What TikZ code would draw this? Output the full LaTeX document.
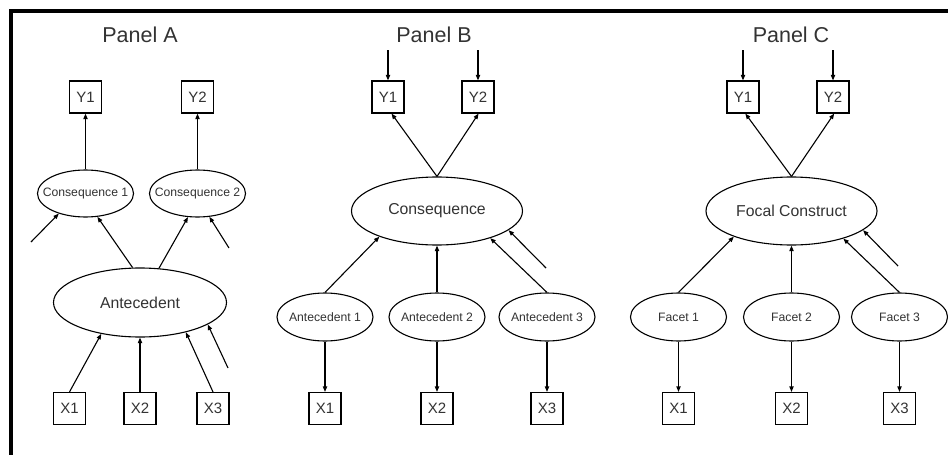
\documentclass[tikz,border=0pt]{standalone}
\usepackage{fontspec}
\setmainfont{Liberation Sans}
\usetikzlibrary{shapes.geometric,arrows.meta}
% label of zero width, so the ellipse keeps its given size
\newcommand{\lbl}[1]{\makebox[0pt]{#1}}
\tikzset{
  obsbox/.style={draw, rectangle, minimum width=32pt, minimum height=32pt,
    inner sep=0pt, font=\fontsize{15}{17}\selectfont},
  latbig/.style={draw, ellipse, minimum width=171pt, minimum height=68pt,
    inner sep=0pt, font=\fontsize{15.8}{18}\selectfont},
  latsmall/.style={draw, ellipse, minimum width=96pt, minimum height=47pt,
    inner sep=0pt, font=\fontsize{12.2}{14}\selectfont},
  paneltitle/.style={anchor=base, font=\fontsize{21.5}{24}\selectfont},
  link/.style={draw, -{Triangle[length=5.5pt,width=4.2pt]}},
}
\begin{document}
\begin{tikzpicture}[x=1pt, y=-1pt, line width=1.1pt,
  every node/.append style={text=black!80}]
\useasboundingbox (0,0) rectangle (948,455);
\fill[white] (0,0) rectangle (948,455);
% frame on top and left
\draw[line width=4pt] (11,455) -- (11,10.5) -- (948,10.5);

% ---------------- Panel A ----------------
\node[paneltitle] (tA) at (140,42.5) {Panel A};
\node[obsbox] (aY1) at (85.5,97) {Y1};
\node[obsbox] (aY2) at (197.5,97) {Y2};
\node[latsmall] (aC1) at (85.5,193.5) {\lbl{Consequence 1}};
\node[latsmall] (aC2) at (197.5,193.5) {\lbl{Consequence 2}};
\node[latbig, minimum width=173pt, minimum height=69pt] (aA) at (140,302.5) {\lbl{Antecedent}};
\node[obsbox] (aX1) at (69.5,408.5) {X1};
\node[obsbox] (aX2) at (140,408.5) {X2};
\node[obsbox] (aX3) at (213,408.5) {X3};
\coordinate (aE1) at (31,242);
\coordinate (aE2) at (229,248);
\coordinate (aE3) at (228,368);

\draw[link] (aC1.north) -- (aY1.south);
\draw[link] (aC2.north) -- (aY2.south);
\draw[link] (aA.102) -- (aC1.297);
\draw[link] (aA.61) -- (aC2.248);
\draw[link] (aE1) -- (aC1.217);
\draw[link] (aE2) -- (aC2.297);
\draw[link] (aX1.north) -- (aA.219);
\draw[link] (aX2.north) -- (aA.south);
\draw[link] (aX3.north) -- (aA.327);
\draw[link] (aE3) -- (aA.342);

% ---------------- Panel B ----------------
\node[paneltitle] (tB) at (434,42) {Panel B};
\node[obsbox] (bY1) at (388,97) {Y1};
\node[obsbox] (bY2) at (478,97) {Y2};
\node[latbig] (bC) at (437,211) {\lbl{Consequence}};
\node[latsmall, minimum height=48pt] (bA1) at (325,317) {\lbl{Antecedent 1}};
\node[latsmall, minimum height=48pt] (bA2) at (437,317) {\lbl{Antecedent 2}};
\node[latsmall, minimum height=48pt] (bA3) at (547,317) {\lbl{Antecedent 3}};
\node[obsbox] (bX1) at (325,408.5) {X1};
\node[obsbox] (bX2) at (437,408.5) {X2};
\node[obsbox] (bX3) at (547,408.5) {X3};
\coordinate (bE1) at (388,50);
\coordinate (bE2) at (478,50);
\coordinate (bE3) at (546,268);

\draw[link] (bE1) -- (bY1.north);
\draw[link] (bE2) -- (bY2.north);
\draw[link] (bC.north) -- (bY1.-78);
\draw[link] (bC.north) -- (bY2.-88);
\draw[link] (bA1.north) -- (bC.204);
\draw[link] (bA2.north) -- (bC.south);
\draw[link] (bA3.north) -- (bC.333);
\draw[link] (bE3) -- (bC.345);
\draw[link] (bA1.south) -- (bX1.north);
\draw[link] (bA2.south) -- (bX2.north);
\draw[link] (bA3.south) -- (bX3.north);

% ---------------- Panel C ----------------
\node[paneltitle] (tC) at (791,42) {Panel C};
\node[obsbox] (cY1) at (743,97) {Y1};
\node[obsbox] (cY2) at (833,97) {Y2};
\node[latbig] (cF) at (791.5,211) {\lbl{Focal Construct}};
\node[latsmall, minimum height=48pt] (cF1) at (678.5,317) {\lbl{Facet 1}};
\node[latsmall, minimum height=48pt] (cF2) at (791.5,317) {\lbl{Facet 2}};
\node[latsmall, minimum height=48pt] (cF3) at (899.5,317) {\lbl{Facet 3}};
\node[obsbox] (cX1) at (678.5,408.5) {X1};
\node[obsbox] (cX2) at (791.5,408.5) {X2};
\node[obsbox] (cX3) at (899.5,408.5) {X3};
\coordinate (cE1) at (743,50);
\coordinate (cE2) at (833,50);
\coordinate (cE3) at (898,266);

\draw[link] (cE1) -- (cY1.north);
\draw[link] (cE2) -- (cY2.north);
\draw[link] (cF.north) -- (cY1.-82);
\draw[link] (cF.north) -- (cY2.-86);
\draw[link] (cF1.north) -- (cF.204);
\draw[link] (cF2.north) -- (cF.south);
\draw[link] (cF3.north) -- (cF.332);
\draw[link] (cE3) -- (cF.345);
\draw[link] (cF1.south) -- (cX1.north);
\draw[link] (cF2.south) -- (cX2.north);
\draw[link] (cF3.south) -- (cX3.north);
\end{tikzpicture}
\end{document}
